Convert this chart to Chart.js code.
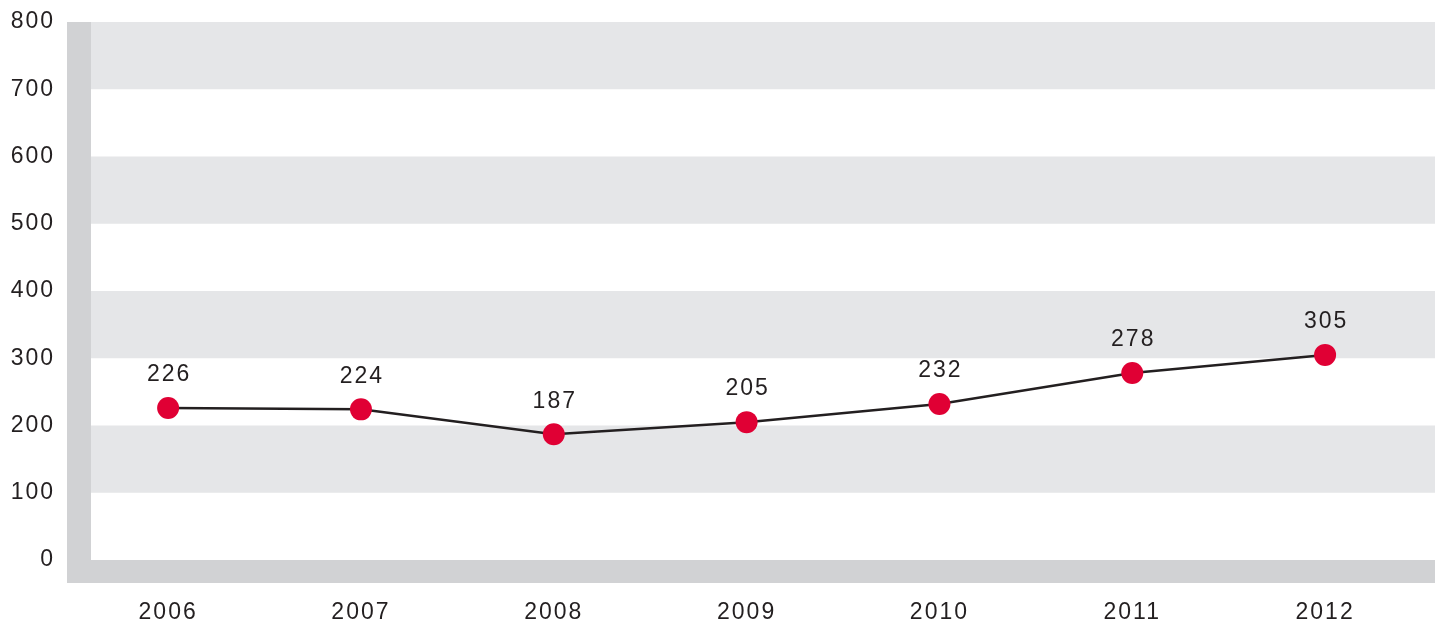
<!DOCTYPE html>
<html>
<head>
<meta charset="utf-8">
<script src="https://cdn.jsdelivr.net/npm/chart.js@4.4.1/dist/chart.umd.min.js"></script>
<style>
  html, body { margin: 0; padding: 0; background: #fff; }
  #wrap { width: 1439px; height: 626px; position: relative; }
</style>
</head>
<body>
<div id="wrap"><canvas id="chart"></canvas></div>
<script>
const years = [2006, 2007, 2008, 2009, 2010, 2011, 2012];
const values = [226, 224, 187, 205, 232, 278, 305];
const yTicks = [0, 100, 200, 300, 400, 500, 600, 700, 800];

const textColor = '#231f20';
const bandGray = '#e5e6e8';
const frameGray = '#d1d2d4';
const red = '#e00034';
const fontFamily = '"Liberation Sans", Arial, sans-serif';

// letter spacing for the tracked Helvetica look
const spacing = {
  id: 'spacing',
  beforeLayout(chart) { chart.ctx.letterSpacing = '2px'; },
  beforeDraw(chart) { chart.ctx.letterSpacing = '2px'; }
};

// grey frame + alternating bands
const backdrop = {
  id: 'backdrop',
  beforeDatasetsDraw(chart) {
    const { ctx, chartArea: a, scales: { y } } = chart;
    ctx.save();
    ctx.fillStyle = frameGray;
    ctx.fillRect(a.left - 24, a.top, 24, a.bottom - a.top + 23);
    ctx.fillRect(a.left - 24, a.bottom, a.right - a.left + 24, 23);
    ctx.fillStyle = bandGray;
    for (let v = 100; v < 800; v += 200) {
      const top = y.getPixelForValue(v + 100);
      const bot = y.getPixelForValue(v);
      ctx.fillRect(a.left, top, a.right - a.left, bot - top);
    }
    ctx.restore();
  }
};

// value labels above the points
const valueLabels = {
  id: 'valueLabels',
  afterDatasetsDraw(chart) {
    const { ctx } = chart;
    const meta = chart.getDatasetMeta(0);
    ctx.save();
    ctx.letterSpacing = '2px';
    ctx.font = '23px ' + fontFamily;
    ctx.fillStyle = textColor;
    ctx.textAlign = 'center';
    ctx.textBaseline = 'middle';
    meta.data.forEach((pt, i) => {
      ctx.fillText(String(values[i]), pt.x + 1, pt.y - 33);
    });
    ctx.restore();
  }
};

new Chart(document.getElementById('chart'), {
  type: 'line',
  data: {
    datasets: [{
      data: years.map((yr, i) => ({ x: yr, y: values[i] })),
      borderColor: textColor,
      borderWidth: 2.5,
      pointRadius: 11,
      pointBackgroundColor: red,
      pointBorderWidth: 0,
      tension: 0,
    }],
  },
  options: {
    responsive: true,
    maintainAspectRatio: false,
    animation: false,
    layout: { autoPadding: false, padding: { top: 22, right: 4, left: 0, bottom: 0 } },
    plugins: {
      legend: { display: false },
      tooltip: { enabled: false },
    },
    scales: {
      x: {
        type: 'linear',
        min: 2005.6,
        max: 2012.57,
        afterFit: s => { s.height = 66; s.paddingLeft = 0; s.paddingRight = 0; },
        afterBuildTicks: s => { s.ticks = years.map(v => ({ value: v })); },
        grid: { display: false, drawTicks: false },
        border: { display: false },
        ticks: {
          padding: 39,
          color: textColor,
          font: { family: fontFamily, size: 23 },
          callback: v => String(v),
        },
      },
      y: {
        min: 0,
        max: 800,
        afterFit: s => { s.width = 91; s.paddingTop = 0; s.paddingBottom = 0; },
        afterBuildTicks: s => { s.ticks = yTicks.map(v => ({ value: v })); },
        grid: { display: false, drawTicks: false },
        border: { display: false },
        ticks: {
          padding: 36,
          color: textColor,
          font: { family: fontFamily, size: 23 },
        },
      },
    },
  },
  plugins: [spacing, backdrop, valueLabels],
});
</script>
</body>
</html>
